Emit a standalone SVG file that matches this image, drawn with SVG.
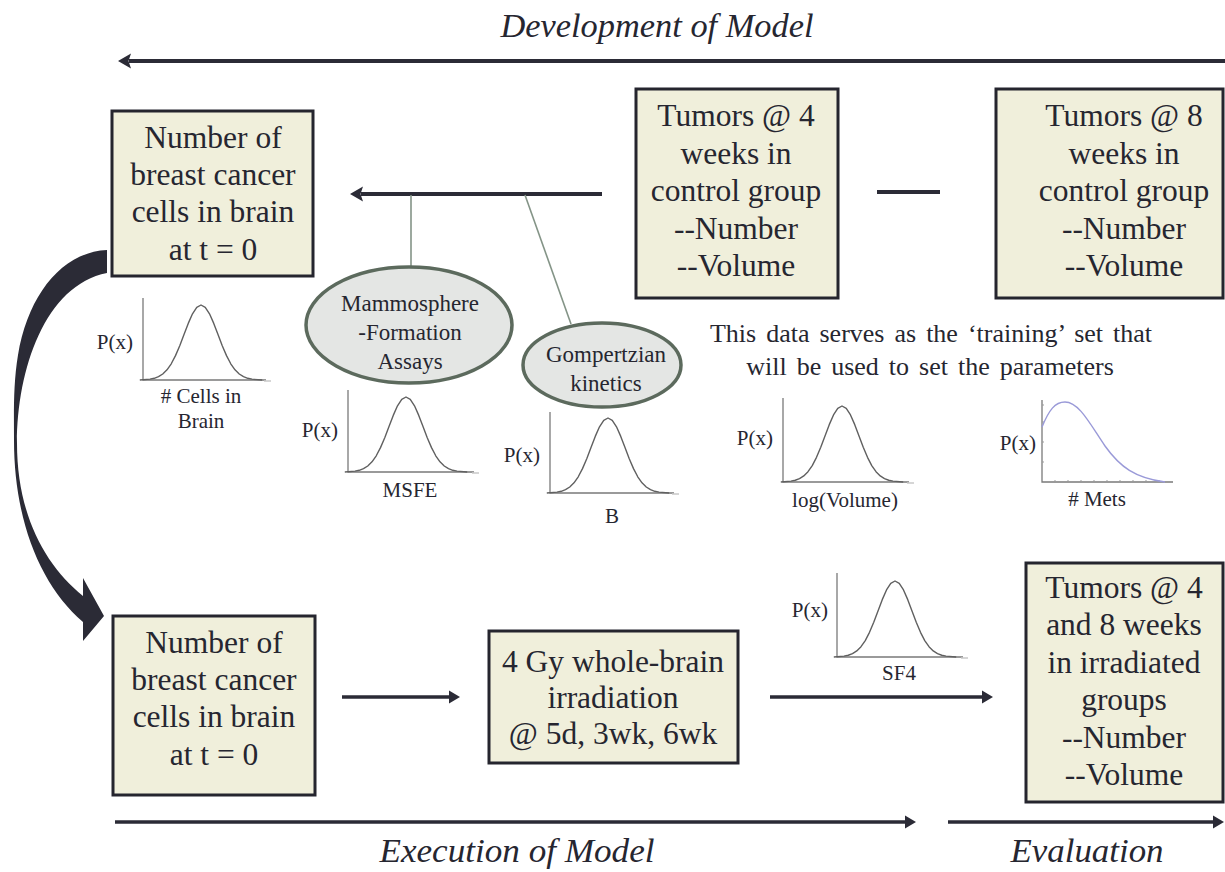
<svg xmlns="http://www.w3.org/2000/svg" xmlns:xlink="http://www.w3.org/1999/xlink" width="1225" height="872" viewBox="0 0 1225 872" font-family="Liberation Serif, Times New Roman, serif">
<style>
  text { fill: #262630; }
  .box { fill: #f0efdb; stroke: #25252e; stroke-width: 3; }
  .bt { font-size: 31.5px; text-anchor: middle; }
  .ell { fill: #e4e6e4; stroke: #5c6a5d; stroke-width: 3.5; }
  .et { font-size: 23px; text-anchor: middle; }
  .head { font-size: 33px; font-style: italic; text-anchor: middle; }
  .px { font-size: 21px; text-anchor: end; }
  .lbl { font-size: 21px; text-anchor: middle; }
  .note { font-size: 26px; text-anchor: middle; word-spacing: 3.5px; }
  .axis { stroke: #7a7a7a; stroke-width: 1.3; fill: none; }
  .axtail { stroke: #c8c8c8; stroke-width: 1.5; }
  .curve { stroke: #606060; stroke-width: 1.4; fill: none; vector-effect: non-scaling-stroke; stroke-linejoin: round; }
  .conn { stroke: #2b2b36; stroke-width: 4; fill: none; }
  .conn2 { stroke: #2b2b36; stroke-width: 3.5; fill: none; }
  .thin { stroke: #849487; stroke-width: 1.6; fill: none; }
</style>
<defs>
  <marker id="ah" markerUnits="userSpaceOnUse" markerWidth="16" markerHeight="18" viewBox="-2 -9 16 18" refX="2" refY="0" orient="auto">
    <path d="M0,-7.5 L13,0 L0,7.5 L2.5,0 Z" fill="#2b2b36"/>
  </marker>
  <marker id="ahs" markerUnits="userSpaceOnUse" markerWidth="14" markerHeight="16" viewBox="-2 -8 14 16" refX="2" refY="0" orient="auto">
    <path d="M0,-6.5 L11,0 L0,6.5 Z" fill="#2b2b36"/>
  </marker>
  <polyline id="gauss" class="curve" points="-360,0 -300,-1.11 -275,-2.28 -250,-4.39 -225,-7.96 -200,-13.53 -175,-21.63 -150,-32.47 -125,-45.78 -100,-60.65 -75,-75.48 -50,-88.25 -25,-96.92 0,-100 25,-96.92 50,-88.25 75,-75.48 100,-60.65 125,-45.78 150,-32.47 175,-21.63 200,-13.53 225,-7.96 250,-4.39 275,-2.28 300,-1.11 360,0"/>
</defs>

<rect width="1225" height="872" fill="#ffffff"/>

<!-- headings -->
<text class="head" x="657" y="37" textLength="313" lengthAdjust="spacingAndGlyphs">Development of Model</text>
<text class="head" x="517" y="862" textLength="275" lengthAdjust="spacingAndGlyphs">Execution of Model</text>
<text class="head" x="1087" y="862" textLength="153" lengthAdjust="spacingAndGlyphs">Evaluation</text>

<!-- connectors -->
<g id="connectors">
  <line class="conn" x1="1225" y1="61" x2="129" y2="61" marker-end="url(#ah)"/>
  <line class="conn" x1="602" y1="194" x2="361" y2="194" marker-end="url(#ah)"/>
  <line class="conn" x1="877" y1="192" x2="940" y2="192"/>
  <line class="thin" x1="411" y1="195" x2="411" y2="268"/>
  <line class="thin" x1="525" y1="195" x2="571" y2="324"/>
  <line class="conn2" x1="342" y1="697" x2="451" y2="697" marker-end="url(#ahs)"/>
  <line class="conn2" x1="770" y1="697" x2="984" y2="697" marker-end="url(#ahs)"/>
  <line class="conn2" x1="115" y1="822" x2="907" y2="822" marker-end="url(#ahs)"/>
  <line class="conn2" x1="948" y1="822" x2="1215" y2="822" marker-end="url(#ahs)"/>
  <path d="M107,250 C62,252 28,295 18,355 C13,385 14,415 14,440 C14,520 40,585 83,622 L83,641 L104,616 L83,578 L83,596 C45,565 17,515 17,443 C17,370 45,285 107,273 Z" fill="#2b2b36"/>
</g>

<!-- nodes -->
<g id="n-cells-top">
  <rect class="box" x="112" y="111" width="201" height="165"/>
  <text class="bt" x="213" y="148">Number of</text>
  <text class="bt" x="213" y="185">breast cancer</text>
  <text class="bt" x="213" y="222">cells in brain</text>
  <text class="bt" x="213" y="260">at t = 0</text>
</g>
<g id="n-tumors4">
  <rect class="box" x="636" y="89" width="202" height="209"/>
  <text class="bt" x="736" y="126">Tumors @ 4</text>
  <text class="bt" x="736" y="164">weeks in</text>
  <text class="bt" x="736" y="201">control group</text>
  <text class="bt" x="736" y="239">--Number</text>
  <text class="bt" x="736" y="276">--Volume</text>
</g>
<g id="n-tumors8">
  <rect class="box" x="996" y="89" width="227" height="209"/>
  <text class="bt" x="1124" y="126">Tumors @ 8</text>
  <text class="bt" x="1124" y="164">weeks in</text>
  <text class="bt" x="1124" y="201">control group</text>
  <text class="bt" x="1124" y="239">--Number</text>
  <text class="bt" x="1124" y="276">--Volume</text>
</g>
<g id="n-mammo">
  <ellipse class="ell" cx="409" cy="325" rx="103" ry="58"/>
  <text class="et" x="410" y="311">Mammosphere</text>
  <text class="et" x="410" y="340">-Formation</text>
  <text class="et" x="410" y="369">Assays</text>
</g>
<g id="n-gompertz">
  <ellipse class="ell" cx="602" cy="365" rx="79" ry="42"/>
  <text class="et" x="606" y="362">Gompertzian</text>
  <text class="et" x="606" y="391">kinetics</text>
</g>
<g id="n-note">
  <text class="note" x="931" y="342">This data serves as the ‘training’ set that</text>
  <text class="note" x="930" y="375">will be used to set the parameters</text>
</g>
<g id="n-cells-bottom">
  <rect class="box" x="113" y="616" width="202" height="179"/>
  <text class="bt" x="214" y="653">Number of</text>
  <text class="bt" x="214" y="690">breast cancer</text>
  <text class="bt" x="214" y="727">cells in brain</text>
  <text class="bt" x="214" y="765">at t = 0</text>
</g>
<g id="n-irradiation">
  <rect class="box" x="489" y="631" width="249" height="132"/>
  <text class="bt" x="613" y="672">4 Gy whole-brain</text>
  <text class="bt" x="613" y="708">irradiation</text>
  <text class="bt" x="613" y="744">@ 5d, 3wk, 6wk</text>
</g>
<g id="n-eval">
  <rect class="box" x="1026" y="563" width="197" height="239"/>
  <text class="bt" x="1124" y="598">Tumors @ 4</text>
  <text class="bt" x="1124" y="635">and 8 weeks</text>
  <text class="bt" x="1124" y="673">in irradiated</text>
  <text class="bt" x="1124" y="710">groups</text>
  <text class="bt" x="1124" y="748">--Number</text>
  <text class="bt" x="1124" y="785">--Volume</text>
</g>

<!-- plots -->
<g id="plot-cells">
  <path class="axis" d="M143,298 V380 H266"/>
  <line class="axtail" x1="264" y1="381" x2="271" y2="381"/>
  <use xlink:href="#gauss" href="#gauss" transform="translate(201,380) scale(0.17,0.75)"/>
  <text class="px" x="133" y="349">P(x)</text>
  <text class="lbl" x="201" y="403"># Cells in</text>
  <text class="lbl" x="201" y="428">Brain</text>
</g>
<g id="plot-msfe">
  <path class="axis" d="M348,390 V472 H474"/>
  <line class="axtail" x1="472" y1="473" x2="479" y2="473"/>
  <use xlink:href="#gauss" href="#gauss" transform="translate(406,472) scale(0.17,0.75)"/>
  <text class="px" x="338" y="437">P(x)</text>
  <text class="lbl" x="410" y="497">MSFE</text>
</g>
<g id="plot-b">
  <path class="axis" d="M550,412 V493 H674"/>
  <line class="axtail" x1="672" y1="494" x2="679" y2="494"/>
  <use xlink:href="#gauss" href="#gauss" transform="translate(608,493) scale(0.17,0.75)"/>
  <text class="px" x="540" y="462">P(x)</text>
  <text class="lbl" x="612" y="523">B</text>
</g>
<g id="plot-logvol">
  <path class="axis" d="M783,398 V482 H909"/>
  <line class="axtail" x1="907" y1="483" x2="914" y2="483"/>
  <use xlink:href="#gauss" href="#gauss" transform="translate(842,482) scale(0.17,0.76)"/>
  <text class="px" x="773" y="445">P(x)</text>
  <text class="lbl" x="845" y="507">log(Volume)</text>
</g>
<g id="plot-mets">
  <path class="axis" d="M1042,400 V482 H1173" stroke="#999"/>
  <path d="M1055,482 v-2 M1068,482 v-2 M1081,482 v-2 M1094,482 v-2 M1107,482 v-2 M1120,482 v-2 M1133,482 v-2 M1146,482 v-2 M1159,482 v-2 M1042,462 h2 M1042,442 h2 M1042,422 h2 M1042,405 h2" stroke="#999" stroke-width="1"/>
  <path d="M1042,427 C1049,410 1055,402 1065,402 C1079,402 1090,424 1105,446 C1120,467 1135,478 1165,482" fill="none" stroke="#9a9ad8" stroke-width="1.4"/>
  <text class="px" x="1036" y="450">P(x)</text>
  <text class="lbl" x="1097" y="506"># Mets</text>
</g>
<g id="plot-sf4">
  <path class="axis" d="M837,573 V657 H963"/>
  <line class="axtail" x1="961" y1="658" x2="968" y2="658"/>
  <use xlink:href="#gauss" href="#gauss" transform="translate(895,657) scale(0.17,0.76)"/>
  <text class="px" x="828" y="617">P(x)</text>
  <text class="lbl" x="899" y="680">SF4</text>
</g>
</svg>
